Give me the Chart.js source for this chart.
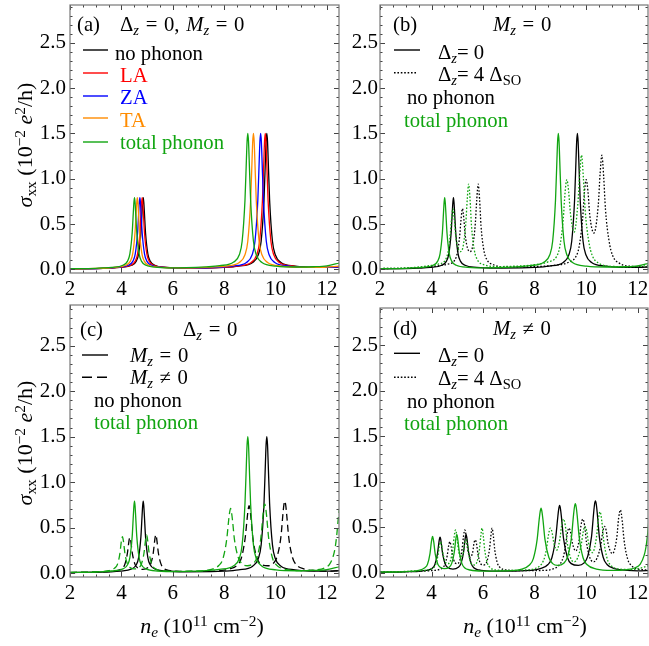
<!DOCTYPE html>
<html><head><meta charset="utf-8">
<script src="https://cdn.jsdelivr.net/npm/chart.js@4.4.1/dist/chart.umd.min.js"></script>
<style>
html,body{margin:0;padding:0;background:#fff;}
body{width:649px;height:646px;position:relative;overflow:hidden;font-family:"Liberation Serif","Times New Roman",serif;}
canvas{position:absolute;display:block;}
.t{position:absolute;font-size:20.7px;line-height:1;white-space:nowrap;color:#000;}
.ttl{word-spacing:1.5px;}
.ax{font-size:22px;}
.g{color:#11a511}.r{color:#ff0000}.b{color:#0000ff}.o{color:#ff8c00}
sub,sup{font-size:0.7em;line-height:0;position:relative;vertical-align:baseline;}
sub{top:0.28em}
sup{top:-0.45em}
.yt{transform:translate(-50%,-50%) rotate(-90deg);}
.xt{transform:translateX(-50%);}
</style></head><body>
<canvas id="ca" width="340" height="300" style="left:0;top:0"></canvas>
<canvas id="cb" width="309" height="300" style="left:340px;top:0"></canvas>
<canvas id="cc" width="340" height="346" style="left:0;top:300px"></canvas>
<canvas id="cd" width="309" height="346" style="left:340px;top:300px"></canvas>

<div class="t" style="left:77px;top:13.5px">(a)</div>
<div class="t ttl" style="left:120px;top:13.5px">Δ<sub><i>z</i></sub> = 0, <i>M</i><sub><i>z</i></sub> = 0</div>
<div class="t" style="left:115px;top:42.5px">no phonon</div>
<div class="t r" style="left:120px;top:64.5px">LA</div>
<div class="t b" style="left:120px;top:87px">ZA</div>
<div class="t o" style="left:120px;top:109.5px">TA</div>
<div class="t g" style="left:120px;top:132px">total phonon</div>

<div class="t" style="left:393px;top:13.5px">(b)</div>
<div class="t ttl" style="left:493px;top:13.5px"><i>M</i><sub><i>z</i></sub> = 0</div>
<div class="t" style="left:438px;top:41.5px">Δ<sub><i>z</i></sub>= 0</div>
<div class="t" style="left:438px;top:63.5px">Δ<sub><i>z</i></sub>= 4 Δ<sub>SO</sub></div>
<div class="t" style="left:407px;top:87px">no phonon</div>
<div class="t g" style="left:404px;top:109.5px">total phonon</div>

<div class="t" style="left:80px;top:318.5px">(c)</div>
<div class="t ttl" style="left:183px;top:318.5px">Δ<sub><i>z</i></sub> = 0</div>
<div class="t ttl" style="left:130px;top:344.5px"><i>M</i><sub><i>z</i></sub> = 0</div>
<div class="t ttl" style="left:130px;top:366.5px"><i>M</i><sub><i>z</i></sub> ≠ 0</div>
<div class="t" style="left:94px;top:389.5px">no phonon</div>
<div class="t g" style="left:94px;top:411.5px">total phonon</div>

<div class="t" style="left:393px;top:317.5px">(d)</div>
<div class="t ttl" style="left:493px;top:317.5px"><i>M</i><sub><i>z</i></sub> ≠ 0</div>
<div class="t" style="left:438px;top:344.5px">Δ<sub><i>z</i></sub>= 0</div>
<div class="t" style="left:438px;top:367.5px">Δ<sub><i>z</i></sub>= 4 Δ<sub>SO</sub></div>
<div class="t" style="left:407px;top:390.5px">no phonon</div>
<div class="t g" style="left:404px;top:412.5px">total phonon</div>

<div class="t ax yt" style="left:25px;top:145px"><i>σ</i><sub>xx</sub> (10<sup>−2</sup> <i>e</i><sup>2</sup>/h)</div>
<div class="t ax yt" style="left:25px;top:443px"><i>σ</i><sub>xx</sub> (10<sup>−2</sup> <i>e</i><sup>2</sup>/h)</div>
<div class="t ax xt" style="left:202px;top:615px"><i>n<sub>e</sub></i> (10<sup>11</sup> cm<sup>−2</sup>)</div>
<div class="t ax xt" style="left:525px;top:615px"><i>n<sub>e</sub></i> (10<sup>11</sup> cm<sup>−2</sup>)</div>

<script>
// ---- tick labels ----
const xTicks = [2, 4, 6, 8, 10, 12];
const yTicks = [0, 0.5, 1.0, 1.5, 2.0, 2.5];

// ---- panel (a): Δz = 0, Mz = 0 ----
const aNoPhonon = [[2,0.005],[3,0.008],[3.5,0.012],[3.95,0.02],[4.4,0.045],[4.58,0.09],[4.67,0.17],[4.76,0.40],[4.805,0.63],[4.828,0.74],[4.85,0.79],[4.872,0.74],[4.895,0.63],[4.94,0.40],[5.03,0.17],[5.12,0.09],[5.3,0.045],[5.75,0.022],[6.5,0.014],[7.5,0.015],[8.0,0.02],[8.56,0.035],[9.11,0.075],[9.33,0.16],[9.44,0.31],[9.55,0.76],[9.605,1.2],[9.632,1.41],[9.66,1.5],[9.688,1.41],[9.715,1.2],[9.77,0.76],[9.88,0.31],[9.99,0.16],[10.21,0.075],[10.76,0.035],[11.3,0.022],[12.0,0.02],[12.5,0.025]];
const aLA = [[2,0.005],[3,0.008],[3.5,0.012],[3.91,0.02],[4.36,0.045],[4.54,0.09],[4.63,0.17],[4.72,0.40],[4.765,0.63],[4.788,0.74],[4.81,0.79],[4.832,0.74],[4.855,0.63],[4.90,0.40],[4.99,0.17],[5.08,0.09],[5.26,0.045],[5.71,0.022],[6.5,0.014],[7.5,0.015],[7.95,0.02],[8.5,0.035],[9.05,0.075],[9.27,0.16],[9.38,0.31],[9.49,0.76],[9.545,1.2],[9.572,1.41],[9.60,1.5],[9.628,1.41],[9.655,1.2],[9.71,0.76],[9.82,0.31],[9.93,0.16],[10.15,0.075],[10.7,0.035],[11.3,0.022],[12.0,0.02],[12.5,0.025]];
const aZA = [[2,0.005],[3,0.008],[3.5,0.013],[3.82,0.02],[4.27,0.045],[4.45,0.09],[4.54,0.17],[4.63,0.40],[4.675,0.63],[4.698,0.74],[4.72,0.79],[4.742,0.74],[4.765,0.63],[4.81,0.40],[4.90,0.17],[4.99,0.09],[5.17,0.045],[5.62,0.022],[6.5,0.015],[7.3,0.016],[7.8,0.022],[8.32,0.035],[8.87,0.075],[9.09,0.16],[9.20,0.31],[9.31,0.76],[9.365,1.2],[9.392,1.41],[9.42,1.5],[9.448,1.41],[9.475,1.2],[9.53,0.76],[9.64,0.31],[9.75,0.16],[9.97,0.075],[10.52,0.035],[11.2,0.022],[12.0,0.02],[12.5,0.028]];
const aTA = [[2,0.005],[3,0.009],[3.5,0.014],[3.72,0.02],[4.17,0.045],[4.35,0.09],[4.44,0.17],[4.53,0.40],[4.575,0.63],[4.598,0.74],[4.62,0.79],[4.642,0.74],[4.665,0.63],[4.71,0.40],[4.80,0.17],[4.89,0.09],[5.07,0.045],[5.52,0.022],[6.3,0.016],[7.0,0.018],[7.5,0.024],[8.04,0.035],[8.59,0.075],[8.81,0.16],[8.92,0.31],[9.03,0.76],[9.085,1.2],[9.112,1.41],[9.14,1.5],[9.168,1.41],[9.195,1.2],[9.25,0.76],[9.36,0.31],[9.47,0.16],[9.69,0.075],[10.24,0.035],[11.0,0.022],[11.8,0.022],[12.5,0.035]];
const aTotal = [[2,0.006],[3,0.01],[3.3,0.015],[3.61,0.022],[4.06,0.045],[4.24,0.09],[4.33,0.17],[4.42,0.40],[4.465,0.63],[4.488,0.74],[4.51,0.79],[4.532,0.74],[4.555,0.63],[4.60,0.40],[4.69,0.17],[4.78,0.09],[4.96,0.045],[5.41,0.022],[6.2,0.016],[6.9,0.02],[7.3,0.026],[7.82,0.04],[8.37,0.08],[8.59,0.16],[8.70,0.31],[8.81,0.76],[8.865,1.2],[8.892,1.41],[8.92,1.5],[8.948,1.41],[8.975,1.2],[9.03,0.76],[9.14,0.31],[9.25,0.16],[9.47,0.075],[10.02,0.035],[10.8,0.025],[11.5,0.028],[12.0,0.038],[12.5,0.07]];

// ---- panel (b): Mz = 0, Δz = 4 ΔSO curves ----
const bNoPhonon4 = [[2,0.008],[3,0.012],[3.8,0.025],[4.3,0.04],[4.6,0.055],[4.9,0.10],[5.0,0.18],[5.09,0.36],[5.145,0.55],[5.2,0.67],[5.255,0.55],[5.31,0.37],[5.4,0.23],[5.5,0.195],[5.6,0.26],[5.7,0.51],[5.755,0.77],[5.81,0.94],[5.865,0.77],[5.92,0.48],[6.03,0.21],[6.14,0.11],[6.4,0.05],[7.0,0.025],[8.0,0.03],[8.8,0.045],[9.3,0.075],[9.6,0.14],[9.72,0.24],[9.86,0.55],[9.93,0.84],[10.0,0.99],[10.07,0.86],[10.14,0.60],[10.3,0.40],[10.47,0.71],[10.54,1.05],[10.61,1.26],[10.68,1.02],[10.75,0.66],[10.89,0.31],[11.03,0.15],[11.3,0.065],[11.8,0.032],[12.45,0.025]];
const bTotal4 = [[2,0.008],[3,0.014],[3.5,0.025],[3.93,0.04],[4.23,0.055],[4.53,0.10],[4.63,0.18],[4.72,0.36],[4.775,0.55],[4.83,0.67],[4.885,0.55],[4.94,0.37],[5.03,0.23],[5.13,0.195],[5.23,0.26],[5.33,0.51],[5.385,0.77],[5.44,0.94],[5.495,0.77],[5.55,0.48],[5.66,0.21],[5.77,0.11],[6.03,0.05],[6.6,0.03],[7.3,0.035],[8.0,0.05],[8.5,0.08],[8.85,0.14],[8.97,0.24],[9.11,0.55],[9.18,0.84],[9.25,0.99],[9.32,0.86],[9.39,0.62],[9.535,0.41],[9.68,0.73],[9.75,1.05],[9.82,1.26],[9.89,1.02],[9.96,0.66],[10.10,0.31],[10.24,0.15],[10.51,0.065],[11.0,0.032],[11.7,0.028],[12.45,0.04]];

// ---- panel (c)/(d): Mz ≠ 0, Δz = 0 curves ----
const cNoPhononM = [[2,0.005],[3,0.01],[3.6,0.018],[3.93,0.035],[4.03,0.05],[4.13,0.09],[4.23,0.21],[4.28,0.32],[4.305,0.37],[4.33,0.39],[4.355,0.37],[4.38,0.32],[4.43,0.21],[4.53,0.095],[4.63,0.057],[4.83,0.04],[5.04,0.06],[5.14,0.10],[5.24,0.22],[5.29,0.34],[5.315,0.395],[5.34,0.42],[5.365,0.395],[5.39,0.34],[5.44,0.22],[5.54,0.10],[5.64,0.055],[5.84,0.03],[6.3,0.018],[7.0,0.017],[7.8,0.025],[8.22,0.045],[8.52,0.09],[8.67,0.165],[8.82,0.39],[8.895,0.60],[8.935,0.70],[8.97,0.74],[9.005,0.70],[9.045,0.60],[9.12,0.38],[9.27,0.17],[9.42,0.10],[9.7,0.08],[9.91,0.105],[10.06,0.18],[10.21,0.40],[10.285,0.64],[10.325,0.75],[10.36,0.79],[10.395,0.75],[10.435,0.64],[10.51,0.40],[10.66,0.17],[10.81,0.09],[11.1,0.045],[11.6,0.025],[12.0,0.02],[12.5,0.025]];
const cTotalM = [[2,0.006],[3,0.013],[3.5,0.025],[3.74,0.055],[3.84,0.09],[3.94,0.21],[3.99,0.33],[4.015,0.375],[4.04,0.40],[4.065,0.375],[4.09,0.33],[4.14,0.21],[4.24,0.095],[4.34,0.06],[4.5,0.045],[4.68,0.06],[4.78,0.10],[4.88,0.22],[4.93,0.34],[4.955,0.395],[4.98,0.42],[5.005,0.395],[5.03,0.34],[5.08,0.22],[5.18,0.10],[5.28,0.055],[5.5,0.03],[6.0,0.018],[6.8,0.02],[7.5,0.04],[7.8,0.085],[7.95,0.155],[8.1,0.37],[8.175,0.58],[8.215,0.67],[8.25,0.71],[8.285,0.67],[8.325,0.58],[8.4,0.37],[8.55,0.17],[8.7,0.10],[8.9,0.08],[9.13,0.105],[9.28,0.175],[9.43,0.39],[9.505,0.62],[9.545,0.72],[9.58,0.76],[9.615,0.72],[9.655,0.62],[9.73,0.39],[9.88,0.165],[10.03,0.09],[10.4,0.04],[11.0,0.025],[11.6,0.035],[11.9,0.055],[12.1,0.095],[12.25,0.19],[12.32,0.28],[12.38,0.41],[12.45,0.62],[12.52,0.76]];

// ---- panel (d): Mz ≠ 0, Δz = 4 ΔSO curves ----
const dNoPhonon4 = [[2,0.007],[3,0.012],[3.8,0.02],[4.2,0.03],[4.41,0.05],[4.51,0.085],[4.61,0.19],[4.66,0.29],[4.71,0.34],[4.76,0.29],[4.81,0.20],[4.91,0.11],[5.0,0.10],[5.09,0.13],[5.19,0.27],[5.24,0.40],[5.29,0.47],[5.34,0.41],[5.39,0.28],[5.495,0.17],[5.6,0.23],[5.65,0.33],[5.70,0.36],[5.75,0.31],[5.8,0.21],[5.9,0.10],[6.025,0.085],[6.15,0.125],[6.25,0.26],[6.30,0.40],[6.35,0.49],[6.40,0.40],[6.45,0.26],[6.55,0.11],[6.65,0.06],[6.9,0.03],[7.5,0.022],[8.3,0.025],[8.7,0.04],[9.0,0.10],[9.12,0.18],[9.19,0.28],[9.26,0.42],[9.33,0.49],[9.40,0.44],[9.47,0.32],[9.60,0.24],[9.73,0.36],[9.80,0.52],[9.87,0.59],[9.94,0.52],[10.01,0.34],[10.15,0.16],[10.29,0.12],[10.43,0.165],[10.57,0.31],[10.64,0.44],[10.71,0.51],[10.78,0.46],[10.85,0.32],[11.02,0.21],[11.19,0.39],[11.26,0.60],[11.33,0.69],[11.40,0.57],[11.47,0.36],[11.61,0.15],[11.75,0.08],[12.0,0.04],[12.45,0.03]];
const dTotal4 = [[2,0.008],[3,0.014],[3.44,0.02],[3.84,0.03],[4.05,0.05],[4.15,0.085],[4.25,0.19],[4.30,0.29],[4.35,0.34],[4.40,0.29],[4.45,0.20],[4.55,0.11],[4.64,0.10],[4.73,0.13],[4.83,0.27],[4.88,0.40],[4.93,0.47],[4.98,0.41],[5.03,0.28],[5.135,0.17],[5.24,0.23],[5.29,0.33],[5.34,0.36],[5.39,0.31],[5.44,0.21],[5.54,0.10],[5.65,0.085],[5.77,0.125],[5.86,0.26],[5.91,0.40],[5.96,0.49],[6.01,0.40],[6.06,0.26],[6.16,0.11],[6.26,0.06],[6.5,0.03],[7.0,0.025],[7.6,0.03],[8.0,0.045],[8.28,0.10],[8.40,0.18],[8.47,0.28],[8.54,0.42],[8.61,0.49],[8.68,0.44],[8.75,0.32],[8.865,0.25],[8.98,0.37],[9.05,0.52],[9.12,0.59],[9.19,0.52],[9.26,0.34],[9.40,0.16],[9.535,0.12],[9.67,0.165],[9.81,0.31],[9.88,0.44],[9.95,0.51],[10.02,0.46],[10.09,0.33],[10.245,0.22],[10.40,0.39],[10.47,0.58],[10.54,0.67],[10.61,0.56],[10.68,0.36],[10.82,0.15],[10.96,0.08],[11.3,0.04],[11.8,0.035],[12.1,0.05],[12.45,0.08]];

// ---- styling ----
const BLACK = '#000000', RED = '#ff0000', BLUE = '#0000ff', ORANGE = '#ff8c00', GREEN = '#11a511';
const DOT = [1.6, 1.8], DASH = [7, 4];
const FONT = {family: '"Liberation Serif","Times New Roman",serif', size: 21};

function ds(pairs, color, dash) {
  return {
    data: pairs.map(p => ({x: p[0], y: p[1]})),
    borderColor: color, borderWidth: 1.3, borderDash: dash || [],
    pointRadius: 0, fill: false, cubicInterpolationMode: 'monotone', clip: 0
  };
}

const framePlugin = {
  id: 'frame',
  afterDraw(chart, args, opts) {
    const ctx = chart.ctx, a = chart.chartArea, x = chart.scales.x, y = chart.scales.y;
    ctx.save();
    ctx.strokeStyle = '#444'; ctx.lineWidth = 1;
    ctx.beginPath();
    for (let i = 4; i <= 26; i++) {
      const v = i / 2; if (v > x.max) break;
      const px = Math.round(x.getPixelForValue(v)) + 0.5;
      const len = (i % 4 === 0) ? 5 : 2.5;
      ctx.moveTo(px, a.bottom); ctx.lineTo(px, a.bottom - len);
      ctx.moveTo(px, a.top); ctx.lineTo(px, a.top + len);
    }
    for (let i = 0; i <= 29; i++) {
      const v = i / 10; if (v > y.max) break;
      const py = Math.round(y.getPixelForValue(v)) + 0.5;
      const len = (i % 5 === 0) ? 5 : 2.5;
      ctx.moveTo(a.left, py); ctx.lineTo(a.left + len, py);
      ctx.moveTo(a.right, py); ctx.lineTo(a.right - len, py);
    }
    ctx.stroke();
    ctx.strokeStyle = '#777'; ctx.lineWidth = 1.2;
    ctx.strokeRect(a.left, a.top, a.right - a.left, a.bottom - a.top);
    (opts.legend || []).forEach(l => {
      ctx.beginPath();
      ctx.strokeStyle = l.color; ctx.lineWidth = 1.4; ctx.setLineDash(l.dash || []);
      ctx.moveTo(l.x1, l.y); ctx.lineTo(l.x2, l.y); ctx.stroke();
    });
    ctx.restore();
  }
};

function makeChart(id, datasets, g) {
  new Chart(document.getElementById(id), {
    type: 'line',
    data: {datasets},
    plugins: [framePlugin],
    options: {
      responsive: false, animation: false, events: [],
      layout: {padding: {left: 0, right: g.right, top: g.top, bottom: 0}},
      plugins: {legend: {display: false}, tooltip: {enabled: false}, frame: {legend: g.legend}},
      scales: {
        x: {
          type: 'linear', min: 2, max: g.xmax,
          afterFit: s => { s.height = g.xh; s.paddingLeft = 0; s.paddingRight = 0; },
          afterBuildTicks: s => { s.ticks = xTicks.map(v => ({value: v})); },
          ticks: {font: FONT, color: '#000', padding: 4, maxRotation: 0, autoSkip: false, callback: v => String(v)},
          grid: {display: false, drawTicks: false}, border: {display: false}
        },
        y: {
          type: 'linear', min: g.ymin, max: g.ymax,
          afterFit: s => { s.width = g.yw; s.paddingTop = 0; s.paddingBottom = 0; },
          afterBuildTicks: s => { s.ticks = yTicks.map(v => ({value: v})); },
          ticks: {font: FONT, color: '#000', padding: g.ypad, callback: v => Number(v).toFixed(1)},
          grid: {display: false, drawTicks: false}, border: {display: false}
        }
      }
    }
  });
}

makeChart('ca', [
  ds(aTotal, GREEN), ds(aTA, ORANGE), ds(aZA, BLUE), ds(aLA, RED), ds(aNoPhonon, BLACK)
], {right: 1, top: 5, xh: 27, yw: 70, ypad: 4, xmax: 12.47, ymin: -0.041, ymax: 2.917,
   legend: [
     {x1: 83, x2: 108, y: 50, color: BLACK}, {x1: 83, x2: 108, y: 73, color: RED},
     {x1: 83, x2: 108, y: 96, color: BLUE}, {x1: 83, x2: 108, y: 118, color: ORANGE},
     {x1: 83, x2: 108, y: 142, color: GREEN}]});

makeChart('cb', [
  ds(bTotal4, GREEN, DOT), ds(aTotal, GREEN), ds(bNoPhonon4, BLACK, DOT), ds(aNoPhonon, BLACK)
], {right: 1, top: 5, xh: 27, yw: 40, ypad: 2, xmax: 12.4, ymin: -0.041, ymax: 2.917,
   legend: [
     {x1: 54, x2: 80, y: 50, color: BLACK}, {x1: 54, x2: 77, y: 72.7, color: BLACK, dash: DOT}]});

makeChart('cc', [
  ds(cTotalM, GREEN, DASH), ds(aTotal, GREEN), ds(cNoPhononM, BLACK, DASH), ds(aNoPhonon, BLACK)
], {right: 1, top: 5, xh: 69, yw: 70, ypad: 4, xmax: 12.47, ymin: -0.044, ymax: 2.948,
   legend: [
     {x1: 82, x2: 108, y: 55, color: BLACK}, {x1: 82, x2: 108, y: 77.3, color: BLACK, dash: [10, 5]}]});

makeChart('cd', [
  ds(dTotal4, GREEN, DOT), ds(cTotalM, GREEN), ds(dNoPhonon4, BLACK, DOT), ds(cNoPhononM, BLACK)
], {right: 1, top: 8, xh: 69, yw: 40, ypad: 2, xmax: 12.4, ymin: -0.047, ymax: 2.91,
   legend: [
     {x1: 54, x2: 80, y: 53.3, color: BLACK}, {x1: 54, x2: 77, y: 77.3, color: BLACK, dash: DOT}]});
</script>
</body></html>
